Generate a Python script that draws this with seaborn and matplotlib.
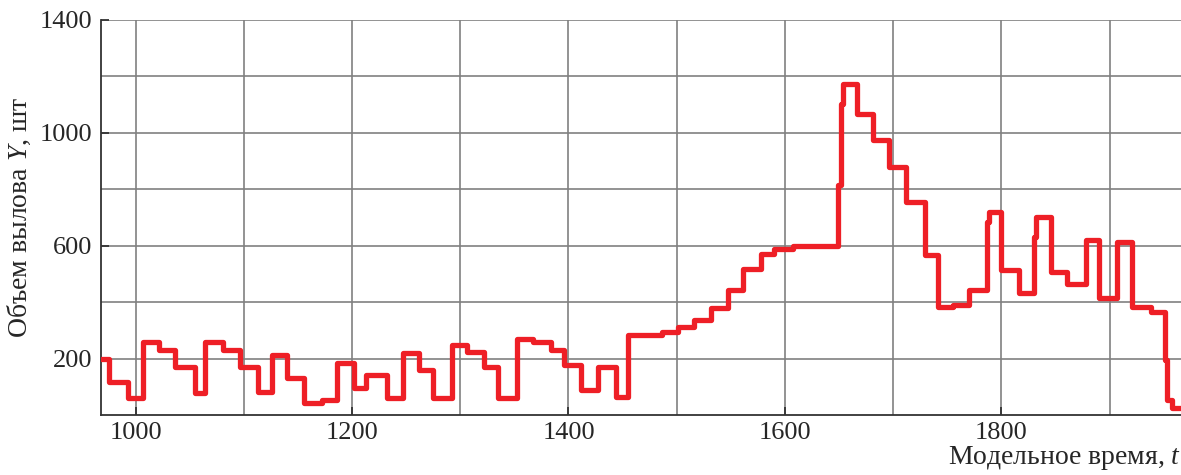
import numpy as np
import pandas as pd
import matplotlib
matplotlib.use("Agg")
import matplotlib.pyplot as plt
import seaborn as sns

# step change times (model time) and values held from that time onward
times = [968, 975, 993, 1007, 1022, 1036, 1055, 1064, 1081, 1096, 1113, 1126,
         1140, 1156, 1172, 1186, 1202, 1213, 1232, 1247, 1262, 1275, 1292, 1306,
         1322, 1335, 1352, 1367, 1384, 1396, 1412, 1427, 1444, 1455, 1486, 1501,
         1516, 1532, 1547, 1561, 1578, 1590, 1607, 1649, 1652, 1654, 1667, 1681,
         1696, 1712, 1729, 1741, 1755, 1770, 1787, 1789, 1800, 1816, 1830, 1832,
         1846, 1861, 1878, 1890, 1907, 1921, 1938, 1951, 1953, 1958, 1966]
values = [200, 118, 60, 260, 230, 171, 77, 260, 230, 171, 82, 212,
          130, 41, 53, 183, 94, 142, 59, 218, 159, 59, 248, 224,
          171, 59, 271, 260, 230, 177, 88, 171, 65, 283, 295, 313,
          336, 378, 442, 519, 572, 590, 598, 814, 1103, 1174, 1068, 973,
          879, 755, 566, 383, 389, 442, 684, 720, 513, 431, 631, 702,
          507, 466, 619, 413, 613, 383, 366, 195, 53, 25, 25]

x_ticks = [1000, 1200, 1400, 1600, 1800]
y_ticks = [200, 600, 1000, 1400]
x_grid = [1100, 1300, 1500, 1700, 1900]
y_grid = [400, 800, 1200]

df = pd.DataFrame({"t": times, "Y": values})

sns.set_style("ticks")
plt.rcParams["font.family"] = ["Liberation Serif", "DejaVu Serif"]
plt.rcParams["mathtext.fontset"] = "custom"
plt.rcParams["mathtext.rm"] = "Liberation Serif"
plt.rcParams["mathtext.it"] = "Liberation Serif:italic"

fig = plt.figure(figsize=(11.81, 4.75), dpi=100)
ax = fig.add_axes([101 / 1181, 60 / 475, 1 - 101 / 1181, (415 - 20) / 475])

grid_kw = dict(color="#808080", lw=1.2, zorder=0)
for v in x_ticks + x_grid:
    ax.axvline(v, **grid_kw)
for v in y_ticks + y_grid:
    ax.axhline(v, **grid_kw)

sns.lineplot(data=df, x="t", y="Y", ax=ax, drawstyle="steps-post",
             color="#ee1f26", lw=3.8, estimator=None, sort=False, zorder=3)

ax.set_xlim(968, 1966)
ax.set_ylim(0, 1400)
ax.set_xticks(x_ticks)
ax.set_yticks(y_ticks)
ax.tick_params(axis="both", direction="in", length=6, width=1.3,
               labelsize=19, color="#333333")
ax.tick_params(axis="x", pad=5)
ax.tick_params(axis="y", pad=6)
for side in ["top", "right"]:
    ax.spines[side].set_visible(False)
for side in ["left", "bottom"]:
    ax.spines[side].set_color("#333333")
    ax.spines[side].set_linewidth(1.3)

ax.set_ylabel("Объем вылова $Y$, шт", fontsize=20, labelpad=5)
ax.set_xlabel("Модельное время, $t$", fontsize=20, loc="right", labelpad=0)

fig.savefig("out.png", dpi=100)
